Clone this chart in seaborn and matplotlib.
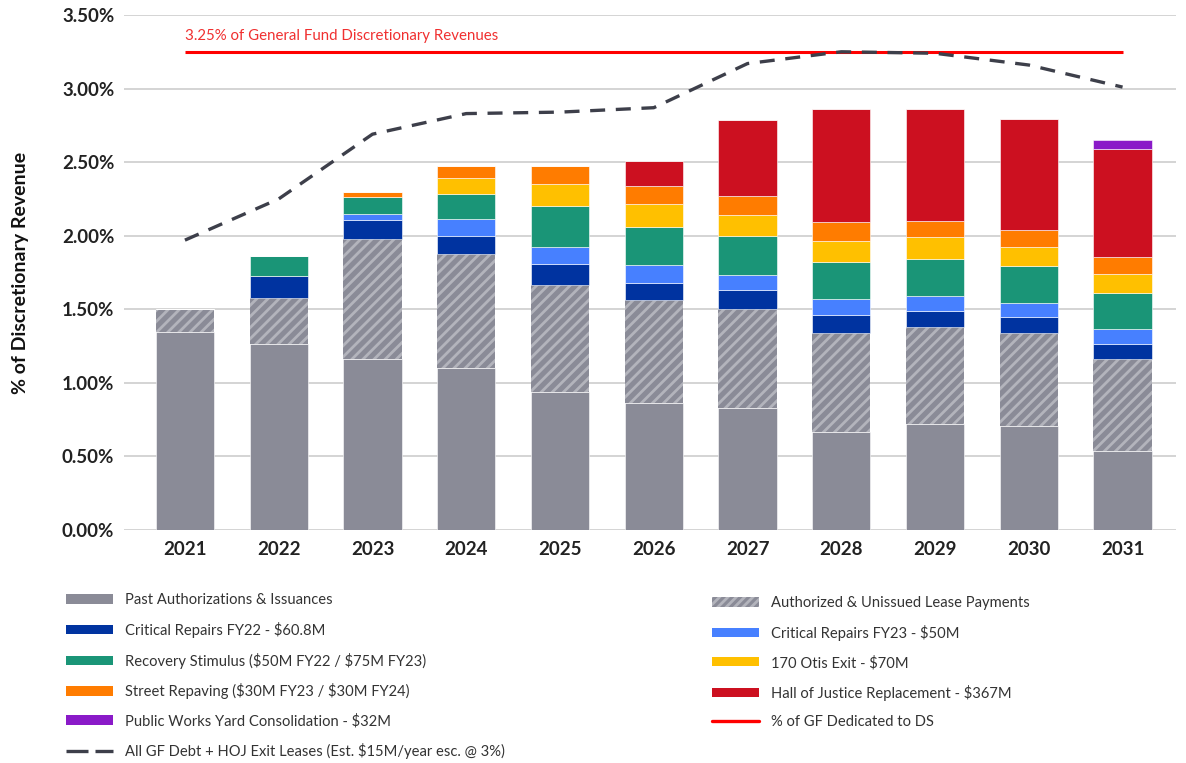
import matplotlib
matplotlib.use("Agg")
import matplotlib.pyplot as plt
import numpy as np
import pandas as pd
import seaborn as sns
from matplotlib.lines import Line2D
from matplotlib.patches import Patch

years = ["2021", "2022", "2023", "2024", "2025", "2026", "2027", "2028", "2029", "2030", "2031"]

# stacked layers, % of discretionary revenue
past = [1.344, 1.266, 1.165, 1.103, 0.940, 0.860, 0.826, 0.669, 0.722, 0.710, 0.539]
authorized = [0.156, 0.314, 0.812, 0.773, 0.727, 0.704, 0.674, 0.670, 0.655, 0.629, 0.626]
crit_fy22 = [0.0, 0.149, 0.132, 0.124, 0.142, 0.115, 0.131, 0.125, 0.112, 0.109, 0.101]
crit_fy23 = [0.0, 0.0, 0.040, 0.114, 0.115, 0.119, 0.103, 0.105, 0.102, 0.093, 0.103]
recovery = [0.0, 0.133, 0.112, 0.171, 0.276, 0.262, 0.266, 0.252, 0.253, 0.253, 0.240]
otis = [0.0, 0.0, 0.0, 0.105, 0.150, 0.156, 0.142, 0.145, 0.145, 0.132, 0.130]
street = [0.0, 0.0, 0.038, 0.087, 0.122, 0.123, 0.125, 0.125, 0.111, 0.114, 0.114]
hoj = [0.0, 0.0, 0.0, 0.0, 0.0, 0.171, 0.521, 0.770, 0.761, 0.750, 0.733]
pw_yard = [0.0, 0.0, 0.0, 0.0, 0.0, 0.0, 0.0, 0.0, 0.0, 0.0, 0.065]

all_gf_debt = [1.97, 2.25, 2.69, 2.83, 2.84, 2.87, 3.17, 3.25, 3.24, 3.16, 3.01]
gf_cap = 3.25

sns.set_theme(style="white")
plt.rcParams["font.family"] = ["Lato", "DejaVu Sans"]

GRAY = "#8a8b97"
layers = [
    ("Past Authorizations & Issuances", past, GRAY),
    ("Authorized & Unissued Lease Payments", authorized, GRAY),
    ("Critical Repairs FY22 - \\$60.8M", crit_fy22, "#0033a0"),
    ("Critical Repairs FY23 - \\$50M", crit_fy23, "#4780ff"),
    ("Recovery Stimulus (\\$50M FY22 / \\$75M FY23)", recovery, "#1a9577"),
    ("170 Otis Exit - \\$70M", otis, "#ffc000"),
    ("Street Repaving (\\$30M FY23 / \\$30M FY24)", street, "#ff7c00"),
    ("Hall of Justice Replacement - \\$367M", hoj, "#cc1020"),
    ("Public Works Yard Consolidation - \\$32M", pw_yard, "#8a1ac8"),
]

fig = plt.figure(figsize=(11.86, 7.63), dpi=100)
ax = fig.add_axes([124 / 1186, 1 - 530 / 763, (1176 - 124) / 1186, (530 - 15) / 763])

plt.rcParams["hatch.linewidth"] = 2.0
bottom = np.zeros(len(years))
for name, vals, col in layers:
    vals = np.array(vals)
    df = pd.DataFrame({"year": years, "v": vals})
    if name.startswith("Authorized"):
        sns.barplot(data=df, x="year", y="v", ax=ax, color=col, bottom=bottom,
                    width=0.62, saturation=1, hatch="///", edgecolor="#b3b4bc",
                    linewidth=0, zorder=2)
    else:
        sns.barplot(data=df, x="year", y="v", ax=ax, color=col, bottom=bottom,
                    width=0.62, saturation=1, edgecolor="white", linewidth=0.4,
                    zorder=2)
    bottom = bottom + vals

xpos = np.arange(len(years))
ax.plot(xpos, all_gf_debt, color="#3d3f4a", lw=2.4, dashes=(4.5, 3.2), zorder=4)
ax.hlines(gf_cap, xpos[0], xpos[-1], color="#ff0000", lw=2.2, zorder=3)
ax.annotate("3.25% of General Fund Discretionary Revenues", xy=(xpos[0], gf_cap),
            xytext=(0, 6), textcoords="offset points", ha="left", va="bottom",
            color="#f03030", fontsize=10.8)

ax.set_ylim(0, 3.5)
ax.set_xlim(-0.65, 10.57)
ax.set_yticks(np.arange(0, 3.51, 0.5))
ax.set_yticklabels([f"{t:.2f}%" for t in np.arange(0, 3.51, 0.5)])
ax.yaxis.grid(True, color="#d4d4d4", lw=1.4, zorder=0)
ax.set_axisbelow(True)
for s in ax.spines.values():
    s.set_visible(False)
ax.tick_params(axis="both", length=0, labelsize=13.5, colors="#222222")
ax.tick_params(axis="y", pad=7)
ax.tick_params(axis="x", pad=8)
for lab in ax.get_xticklabels() + ax.get_yticklabels():
    lab.set_fontweight("bold")
ax.set_xlabel("")
ax.set_ylabel("% of Discretionary Revenue", fontsize=14, fontweight="bold",
              color="#111111", labelpad=24)

# legends
def patch(col, hatch=None):
    if hatch:
        return Patch(facecolor=col, edgecolor="#b3b4bc", hatch=hatch, lw=0)
    return Patch(facecolor=col, edgecolor="none")

left_names = [0, 2, 4, 6, 8]
left_h = [patch(layers[i][2]) for i in left_names]
left_l = [layers[i][0] for i in left_names]
left_h.append(Line2D([], [], color="#3d3f4a", lw=2.4, dashes=(6.6, 2.1)))
left_l.append("All GF Debt + HOJ Exit Leases (Est. \\$15M/year esc. @ 3%)")

right_names = [1, 3, 5, 7]
right_h = [patch(layers[i][2], "////" if i == 1 else None) for i in right_names]
right_l = [layers[i][0] for i in right_names]
right_h.append(Line2D([], [], color="#ff0000", lw=2.4))
right_l.append("% of GF Dedicated to DS")

common = dict(frameon=False, fontsize=10.6, labelspacing=0.99, handlelength=3.2,
              handleheight=0.6, handletextpad=0.75, borderpad=0, labelcolor="#333333")
fig.legend(left_h, left_l, loc="upper left", bbox_to_anchor=(59 / 1186, 1 - 586 / 763), **common)
fig.legend(right_h, right_l, loc="upper left", bbox_to_anchor=(705 / 1186, 1 - 589 / 763), **common)

fig.savefig("out.png", dpi=100)
